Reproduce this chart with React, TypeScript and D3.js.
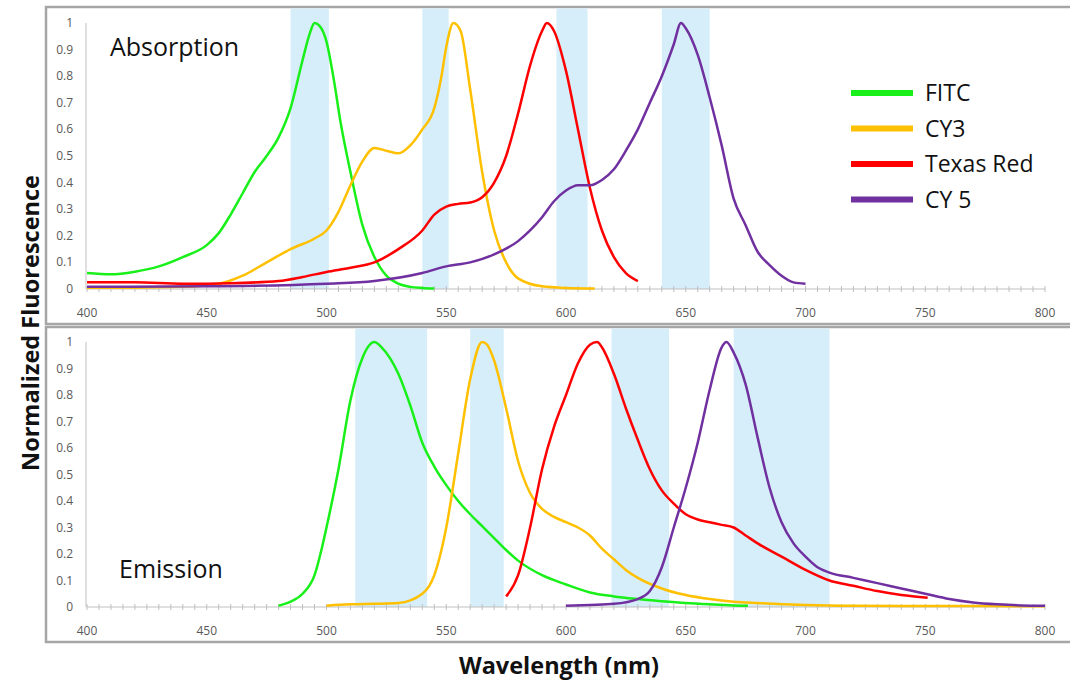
import React, { useEffect, useRef } from 'react';
import * as d3 from 'd3';

// wavelength (nm) / normalized value pairs
const fitcAbsNm = [400, 410, 420, 430, 440, 450, 455, 460, 465, 470, 475, 480, 485, 490, 493, 495, 497, 500, 503, 506, 510, 515, 520, 525, 530, 535, 540, 545];
const fitcAbsVal = [0.06, 0.055, 0.065, 0.085, 0.12, 0.165, 0.21, 0.28, 0.36, 0.44, 0.5, 0.57, 0.68, 0.86, 0.96, 1.0, 0.99, 0.93, 0.79, 0.62, 0.44, 0.24, 0.12, 0.05, 0.02, 0.008, 0.004, 0.002];

const cy3AbsNm = [400, 420, 440, 455, 465, 475, 485, 495, 500, 505, 510, 515, 520, 525, 530, 535, 540, 545, 548, 550, 553, 556, 560, 565, 570, 575, 580, 590, 600, 612];
const cy3AbsVal = [0.005, 0.005, 0.008, 0.02, 0.05, 0.1, 0.15, 0.19, 0.22, 0.29, 0.39, 0.48, 0.53, 0.52, 0.51, 0.54, 0.6, 0.68, 0.8, 0.91, 1.0, 0.97, 0.75, 0.44, 0.22, 0.1, 0.04, 0.01, 0.004, 0.002];

const texasAbsNm = [400, 420, 440, 460, 480, 490, 500, 510, 520, 530, 540, 545, 550, 555, 560, 565, 570, 575, 580, 585, 590, 592, 595, 600, 605, 610, 615, 620, 625, 630];
const texasAbsVal = [0.025, 0.025, 0.02, 0.022, 0.03, 0.045, 0.064, 0.08, 0.1, 0.15, 0.22, 0.28, 0.31, 0.32, 0.325, 0.345, 0.4, 0.5, 0.66, 0.84, 0.97, 1.0, 0.97, 0.82, 0.6, 0.38, 0.22, 0.12, 0.06, 0.03];

const cy5AbsNm = [400, 450, 500, 520, 540, 550, 560, 570, 580, 585, 590, 595, 600, 605, 610, 615, 620, 625, 630, 635, 640, 645, 648, 650, 655, 660, 665, 670, 675, 680, 685, 690, 695, 700];
const cy5AbsVal = [0.008, 0.01, 0.02, 0.03, 0.06, 0.085, 0.1, 0.13, 0.18, 0.22, 0.27, 0.33, 0.37, 0.39, 0.39, 0.41, 0.45, 0.52, 0.6, 0.7, 0.8, 0.92, 1.0, 0.98, 0.88, 0.72, 0.54, 0.34, 0.24, 0.14, 0.09, 0.05, 0.025, 0.02];

const fitcEmNm = [480, 485, 490, 495, 498, 500, 505, 510, 515, 520, 523, 530, 535, 540, 545, 550, 555, 560, 565, 570, 575, 580, 590, 600, 610, 620, 630, 640, 650, 660, 670, 676];
const fitcEmVal = [0.005, 0.02, 0.05, 0.12, 0.22, 0.3, 0.52, 0.78, 0.94, 1.0, 0.98, 0.88, 0.76, 0.62, 0.53, 0.46, 0.4, 0.35, 0.305, 0.26, 0.215, 0.175, 0.12, 0.085, 0.055, 0.04, 0.03, 0.022, 0.015, 0.01, 0.006, 0.005];

const cy3EmNm = [500, 510, 520, 530, 540, 545, 550, 555, 560, 565, 567, 570, 575, 580, 585, 590, 595, 600, 605, 610, 615, 620, 625, 630, 640, 650, 660, 670, 680, 700, 720, 750, 800];
const cy3EmVal = [0.005, 0.01, 0.012, 0.015, 0.05, 0.12, 0.3, 0.58, 0.86, 1.0, 0.99, 0.93, 0.75, 0.55, 0.43, 0.37, 0.34, 0.32, 0.3, 0.27, 0.22, 0.18, 0.14, 0.11, 0.07, 0.045, 0.03, 0.02, 0.015, 0.008, 0.005, 0.004, 0.003];

const texasEmNm = [575, 580, 585, 590, 595, 600, 605, 610, 613, 615, 620, 625, 630, 635, 640, 645, 650, 655, 660, 665, 670, 675, 680, 690, 700, 710, 720, 730, 740, 751];
const texasEmVal = [0.04, 0.12, 0.3, 0.52, 0.68, 0.8, 0.92, 0.99, 1.0, 0.98, 0.88, 0.75, 0.63, 0.52, 0.44, 0.39, 0.35, 0.33, 0.32, 0.31, 0.3, 0.27, 0.24, 0.19, 0.14, 0.1, 0.08, 0.06, 0.045, 0.035];

const cy5EmNm = [600, 610, 620, 630, 635, 640, 645, 650, 655, 660, 665, 667, 670, 675, 680, 685, 690, 695, 700, 705, 710, 720, 730, 740, 750, 760, 770, 780, 790, 800];
const cy5EmVal = [0.005, 0.008, 0.012, 0.03, 0.06, 0.15, 0.3, 0.45, 0.62, 0.82, 0.98, 1.0, 0.96, 0.84, 0.64, 0.45, 0.32, 0.24, 0.19, 0.15, 0.13, 0.11, 0.09, 0.07, 0.05, 0.03, 0.017, 0.01, 0.006, 0.005];

const dyeNames = ['FITC', 'CY3', 'Texas Red', 'CY 5'];
const dyeColors = ['#19f019', '#ffc000', '#ff0000', '#7030a0'];

// filter bands [from nm, to nm]
const absBands = [[485, 501], [540, 551], [596, 609], [640, 660]];
const emBands = [[512, 542], [560, 574], [619, 643], [670, 710]];

const xTickLabels = [400, 450, 500, 550, 600, 650, 700, 750, 800];
const yTickLabels = [0, 0.1, 0.2, 0.3, 0.4, 0.5, 0.6, 0.7, 0.8, 0.9, 1];

const FONT = '"Open Sans", Lato, sans-serif';

const App = () => {
  const ref = useRef<SVGSVGElement>(null);

  useEffect(() => {
    const svg = d3.select(ref.current);
    svg.selectAll('*').remove();

    const x = d3.scaleLinear().domain([400, 800]).range([87, 1045]);

    const panels = [
      {
        frame: [7, 324], top: 23, bottom: 289, label: 'Absorption', labelX: 110, labelY: 56, bands: absBands,
        series: [[fitcAbsNm, fitcAbsVal], [cy3AbsNm, cy3AbsVal], [texasAbsNm, texasAbsVal], [cy5AbsNm, cy5AbsVal]],
      },
      {
        frame: [327, 642], top: 342, bottom: 607, label: 'Emission', labelX: 119, labelY: 578, bands: emBands,
        series: [[fitcEmNm, fitcEmVal], [cy3EmNm, cy3EmVal], [texasEmNm, texasEmVal], [cy5EmNm, cy5EmVal]],
      },
    ];

    panels.forEach(p => {
      const y = d3.scaleLinear().domain([0, 1]).range([p.bottom, p.top]);
      const g = svg.append('g');

      // panel frame (right edge runs off the picture)
      g.append('rect')
        .attr('x', 46).attr('y', p.frame[0])
        .attr('width', 1040).attr('height', p.frame[1] - p.frame[0])
        .attr('fill', 'white').attr('stroke', '#a6a6a6').attr('stroke-width', 2.5);

      // blue filter bands
      g.selectAll('rect.band').data(p.bands).enter().append('rect')
        .attr('class', 'band')
        .attr('x', d => x(d[0])).attr('width', d => x(d[1]) - x(d[0]))
        .attr('y', p.frame[0] + 1.5).attr('height', p.bottom - p.frame[0] - 1.5)
        .attr('fill', '#d5eef9');

      // y axis
      g.append('line')
        .attr('x1', 86).attr('x2', 86).attr('y1', p.top).attr('y2', p.bottom)
        .attr('stroke', '#bfbfbf').attr('stroke-width', 1);
      g.selectAll('text.ytick').data(yTickLabels).enter().append('text')
        .attr('class', 'ytick')
        .attr('x', 73).attr('y', d => y(d) + 4)
        .attr('text-anchor', 'end')
        .attr('font-family', FONT).attr('font-size', 12).attr('fill', '#595959')
        .text(d => String(d));

      // x axis with minor ticks every 5 nm
      g.append('line')
        .attr('x1', x(400)).attr('x2', x(800)).attr('y1', p.bottom).attr('y2', p.bottom)
        .attr('stroke', '#bfbfbf').attr('stroke-width', 1);
      g.selectAll('line.xtick').data(d3.range(400, 801, 5)).enter().append('line')
        .attr('class', 'xtick')
        .attr('x1', d => x(d)).attr('x2', d => x(d))
        .attr('y1', p.bottom - 3).attr('y2', p.bottom + 3)
        .attr('stroke', '#bfbfbf').attr('stroke-width', 1);
      g.selectAll('text.xtick').data(xTickLabels).enter().append('text')
        .attr('class', 'xtick')
        .attr('x', d => x(d)).attr('y', p.bottom + 28)
        .attr('text-anchor', 'middle')
        .attr('font-family', FONT).attr('font-size', 12).attr('fill', '#595959')
        .text(d => String(d));

      // curves
      p.series.forEach(([nm, val], si) => {
        const pts = nm.map((w, i) => [x(w), y(val[i])] as [number, number]);
        g.append('path')
          .attr('d', d3.line().curve(d3.curveMonotoneX)(pts))
          .attr('fill', 'none')
          .attr('stroke', dyeColors[si])
          .attr('stroke-width', 2.5)
          .attr('stroke-linejoin', 'round');
      });

      g.append('text')
        .attr('x', p.labelX).attr('y', p.labelY)
        .attr('font-family', FONT).attr('font-size', 25).attr('fill', '#111')
        .text(p.label);
    });

    // legend
    const legend = svg.append('g');
    dyeNames.forEach((name, i) => {
      const ly = 93 + i * 35.5;
      legend.append('line')
        .attr('x1', 851).attr('x2', 913).attr('y1', ly).attr('y2', ly)
        .attr('stroke', dyeColors[i]).attr('stroke-width', 6);
      legend.append('text')
        .attr('x', 925).attr('y', ly + 8)
        .attr('font-family', FONT).attr('font-size', 23).attr('fill', '#111')
        .text(name);
    });

    // axis titles
    svg.append('text')
      .attr('transform', 'translate(39,323) rotate(-90)')
      .attr('text-anchor', 'middle')
      .attr('font-family', FONT).attr('font-size', 23.5).attr('font-weight', 'bold').attr('fill', '#111')
      .text('Normalized Fluorescence');
    svg.append('text')
      .attr('x', 559).attr('y', 674)
      .attr('text-anchor', 'middle')
      .attr('font-family', FONT).attr('font-size', 23.5).attr('font-weight', 'bold').attr('fill', '#111')
      .text('Wavelength (nm)');
  }, []);

  return (
    <svg
      ref={ref}
      width={1070}
      height={681}
      style={{ position: 'absolute', left: 0, top: 0, background: 'white', display: 'block' }}
    ></svg>
  );
};

export default App;
